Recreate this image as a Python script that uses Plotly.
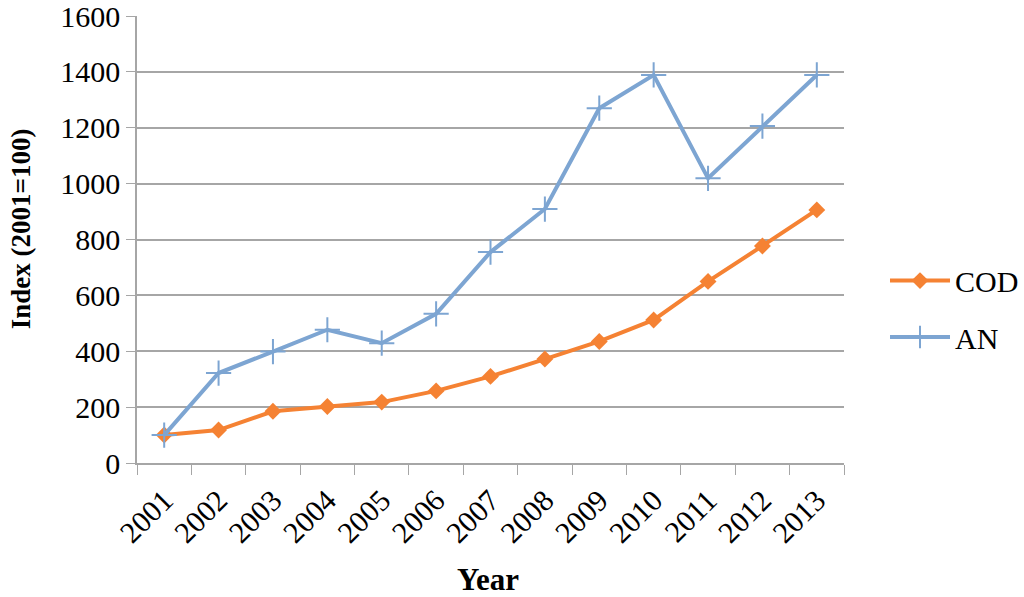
import plotly.graph_objects as go

years = ["2001", "2002", "2003", "2004", "2005", "2006", "2007",
         "2008", "2009", "2010", "2011", "2012", "2013"]
cod = [100, 118, 185, 202, 218, 258, 310, 372, 435, 512, 650, 777, 906]
an = [100, 322, 399, 477, 429, 534, 755, 909, 1270, 1389, 1019, 1206, 1389]
y_ticks = [0, 200, 400, 600, 800, 1000, 1200, 1400, 1600]

FONT = "Liberation Serif"
ORANGE = "#F58233"
BLUE = "#7DA5D2"
GRID = "#A6A6A6"

fig = go.Figure()
fig.add_trace(go.Scatter(
    x=years, y=cod, name="COD", mode="lines+markers", legend="legend",
    line=dict(color=ORANGE, width=4),
    marker=dict(symbol="diamond", size=13, color=ORANGE),
))
fig.add_trace(go.Scatter(
    x=years, y=an, name="AN", mode="lines+markers", legend="legend2",
    line=dict(color=BLUE, width=4),
    marker=dict(symbol="cross-thin", size=18, line=dict(color=BLUE, width=2)),
))

leg_common = dict(xanchor="left", yanchor="middle", bgcolor="rgba(0,0,0,0)",
                  font=dict(family=FONT, size=30), itemwidth=60)

fig.update_layout(
    width=1024, height=597,
    margin=dict(l=137, r=180, t=16, b=134, autoexpand=False),
    paper_bgcolor="white", plot_bgcolor="white",
    font=dict(family=FONT, size=29, color="black"),
    showlegend=True,
    legend=dict(x=1.058, y=0.408, **leg_common),
    legend2=dict(x=1.058, y=0.282, **leg_common),
    xaxis=dict(
        type="category", range=[-0.5, 12.5], automargin=False,
        tickson="boundaries", ticks="outside", ticklen=10, tickcolor=GRID,
        showline=True, linecolor=GRID, linewidth=1.5,
        showgrid=False, tickangle=-45, ticklabelstandoff=6,
        tickfont=dict(family=FONT, size=30),
    ),
    yaxis=dict(
        range=[0, 1600], tickvals=y_ticks, automargin=False,
        ticklabeloverflow="allow", ticksuffix="\u2002",
        ticks="outside", ticklen=9, tickcolor=GRID,
        showline=True, linecolor=GRID, linewidth=1.5,
        showgrid=True, gridcolor=GRID, gridwidth=1.5, zeroline=False,
        tickfont=dict(family=FONT, size=30),
    ),
    annotations=[
        dict(text="<b>Index (2001=100)</b>", textangle=-90,
             xref="paper", yref="paper", x=-0.164, y=0.523,
             xanchor="center", yanchor="middle", showarrow=False,
             font=dict(family=FONT, size=27)),
        dict(text="<b>Year</b>", xref="paper", yref="paper",
             x=0.496, y=-0.26, xanchor="center", yanchor="middle",
             showarrow=False, font=dict(family=FONT, size=31)),
    ],
)

fig.write_html("out.html", config={"displayModeBar": False},
               post_script="document.body.style.margin='0';")
